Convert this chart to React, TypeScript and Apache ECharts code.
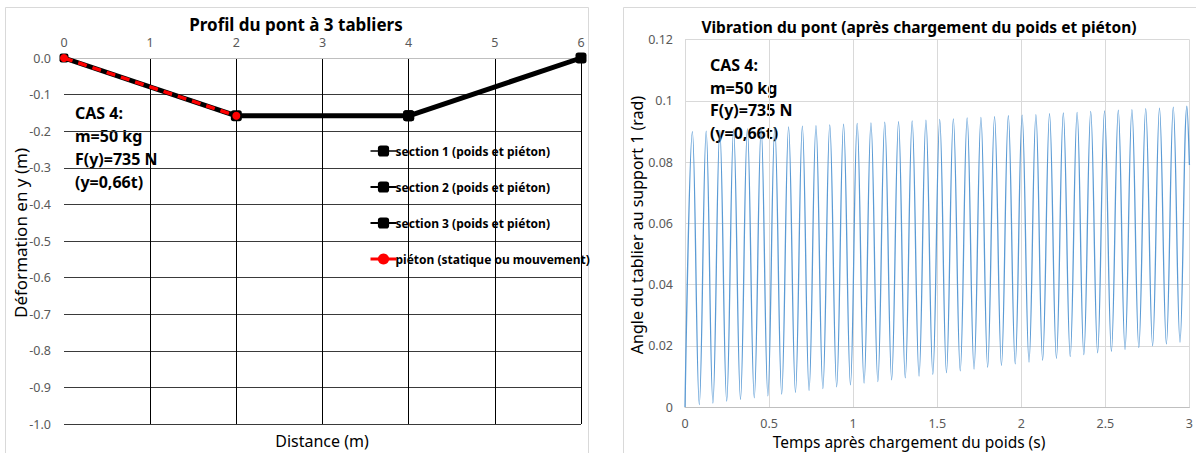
import React, { useEffect, useRef } from "react";
import * as echarts from "echarts";

// ---------- Left chart data: bridge profile ----------
const supportX = [0, 2, 4, 6];
const deflectionY = [0, -0.158, -0.158, 0];
const sectionNames = [
  "section 1 (poids et piéton)",
  "section 2 (poids et piéton)",
  "section 3 (poids et piéton)",
];
const pietonName = "piéton (statique ou mouvement)";
const leftXTicks = [0, 1, 2, 3, 4, 5, 6];

// ---------- Right chart data: vibration (extrema) ----------
const startPoint = [0, 0];
const endPoint = [3, 0.079];
const peakTimes = [
  0.044, 0.126, 0.207, 0.289, 0.371, 0.453, 0.534, 0.616, 0.698, 0.779, 0.861,
  0.943, 1.024, 1.106, 1.188, 1.27, 1.351, 1.433, 1.515, 1.596, 1.678, 1.76,
  1.841, 1.923, 2.005, 2.087, 2.168, 2.25, 2.332, 2.413, 2.495, 2.577, 2.658,
  2.74, 2.822, 2.904, 2.985,
];
const peakValues = [
  0.0899, 0.0901, 0.0903, 0.0906, 0.0908, 0.091, 0.0912, 0.0915, 0.0917,
  0.0919, 0.0921, 0.0924, 0.0926, 0.0928, 0.093, 0.0932, 0.0934, 0.0937,
  0.0939, 0.0941, 0.0944, 0.0946, 0.0948, 0.0951, 0.0953, 0.0955, 0.0958,
  0.096, 0.0962, 0.0965, 0.0967, 0.0969, 0.0971, 0.0974, 0.0976, 0.0979,
  0.0982,
];
const troughTimes = [
  0.085, 0.166, 0.248, 0.33, 0.412, 0.493, 0.575, 0.657, 0.738, 0.82, 0.902,
  0.984, 1.065, 1.147, 1.229, 1.31, 1.392, 1.474, 1.555, 1.637, 1.719, 1.8,
  1.882, 1.964, 2.046, 2.127, 2.209, 2.291, 2.372, 2.454, 2.536, 2.617, 2.699,
  2.781, 2.863, 2.944,
];
const troughValues = [
  0.0008, 0.0013, 0.0019, 0.0025, 0.003, 0.0036, 0.0042, 0.0048, 0.0054,
  0.006, 0.0066, 0.0072, 0.0078, 0.0083, 0.0089, 0.0095, 0.0101, 0.0107,
  0.0112, 0.0118, 0.0124, 0.013, 0.0136, 0.0141, 0.0147, 0.0153, 0.0159,
  0.0165, 0.0171, 0.0177, 0.0182, 0.0188, 0.0194, 0.02, 0.0206, 0.0212,
];

const FONT = '"Noto Sans", sans-serif';
const CAS_TEXT = "CAS 4:\nm=50 kg\nF(y)=735 N\n(y=0,66t)";

export default function App() {
  const ref = useRef<HTMLDivElement>(null);

  useEffect(() => {
    if (!ref.current) return;
    const chart = echarts.init(ref.current, undefined, { renderer: "svg" });

    const pts = supportX.map((x, i) => [x, deflectionY[i]]);
    const sections = sectionNames.map((_, i) => [pts[i], pts[i + 1]]);
    const pieton = [pts[0], pts[1]];

    const vib: number[][] = [startPoint];
    peakTimes.forEach((t, i) => {
      vib.push([t, peakValues[i]]);
      if (i < troughTimes.length) vib.push([troughTimes[i], troughValues[i]]);
    });
    vib.push(endPoint);

    const tickLabel = { color: "#595959", fontSize: 12.5, fontFamily: FONT };

    chart.setOption({
      animation: false,
      textStyle: { fontFamily: FONT },
      title: [
        {
          text: "Profil du pont à 3 tabliers",
          left: 291,
          top: 11,
          textAlign: "center",
          textStyle: { fontSize: 17, fontWeight: "bold", color: "#000", fontFamily: FONT },
        },
        {
          text: "Vibration du pont (après chargement du poids et piéton)",
          left: 914,
          top: 14,
          textAlign: "center",
          textStyle: { fontSize: 15.5, fontWeight: "bold", color: "#000", fontFamily: FONT },
        },
      ],
      grid: [
        { left: 64, top: 58, width: 517, height: 366 },
        { left: 685, top: 39.5, width: 507.5, height: 367.5 },
      ],
      xAxis: [
        {
          gridIndex: 0,
          type: "value",
          position: "top",
          min: leftXTicks[0],
          max: leftXTicks[leftXTicks.length - 1],
          interval: 1,
          axisLine: { show: true, onZero: false, lineStyle: { color: "#BFBFBF", width: 1 } },
          axisTick: { show: false },
          axisLabel: { ...tickLabel, margin: 9 },
          splitLine: { show: true, showMinLine: false, lineStyle: { color: "#000", width: 1 } },
        },
        {
          gridIndex: 1,
          type: "value",
          min: 0,
          max: 3,
          interval: 0.5,
          axisLine: { show: true, lineStyle: { color: "#BFBFBF", width: 1 } },
          axisTick: { show: false },
          axisLabel: { ...tickLabel, margin: 10 },
          splitLine: { show: true, lineStyle: { color: "#D9D9D9", width: 1 } },
        },
      ],
      yAxis: [
        {
          gridIndex: 0,
          type: "value",
          min: -1,
          max: 0,
          interval: 0.1,
          axisLine: { show: false },
          axisTick: { show: false },
          axisLabel: {
            ...tickLabel,
            margin: 13,
            formatter: (v: number) => v.toFixed(1),
          },
          splitLine: { show: true, showMaxLine: false, lineStyle: { color: "#3A3A3A", width: 1 } },
        },
        {
          gridIndex: 1,
          type: "value",
          min: 0,
          max: 0.12,
          interval: 0.02,
          axisLine: { show: false },
          axisTick: { show: false },
          axisLabel: { ...tickLabel, margin: 12 },
          splitLine: { show: true, lineStyle: { color: "#D9D9D9", width: 1 } },
        },
      ],
      legend: {
        orient: "vertical",
        left: 364,
        top: 140,
        itemGap: 24,
        itemWidth: 26,
        itemHeight: 14,
        selectedMode: false,
        textStyle: { fontSize: 12, fontWeight: "bold", color: "#000", fontFamily: FONT, padding: [0, 0, 0, -6] },
        data: [
          { name: sectionNames[0], itemStyle: { color: "#000" }, lineStyle: { width: 1.5, color: "#000" } },
          { name: sectionNames[1] },
          { name: sectionNames[2] },
          { name: pietonName, lineStyle: { type: "solid", width: 3, color: "#FF0000" } },
        ],
      },
      graphic: [
        {
          type: "rect",
          shape: { x: 5.5, y: 7.5, width: 583, height: 460 },
          style: { fill: "none", stroke: "#D9D9D9", lineWidth: 1 },
          silent: true,
        },
        {
          type: "rect",
          shape: { x: 623.5, y: 7.5, width: 590, height: 460 },
          style: { fill: "none", stroke: "#D9D9D9", lineWidth: 1 },
          silent: true,
        },
        {
          type: "text",
          x: 75,
          y: 101,
          style: { text: CAS_TEXT, font: `bold 16px ${FONT}`, lineHeight: 23, fill: "#000" },
        },
        {
          type: "text",
          x: 710,
          y: 54,
          style: { text: CAS_TEXT, font: `bold 16px ${FONT}`, lineHeight: 22.5, fill: "#000" },
        },
        {
          type: "text",
          x: 322,
          y: 441,
          style: { text: "Distance (m)", font: `16px ${FONT}`, fill: "#000", align: "center", verticalAlign: "middle" },
        },
        {
          type: "text",
          x: 20,
          y: 233,
          rotation: Math.PI / 2,
          style: { text: "Déformation en y (m)", font: `17px ${FONT}`, fill: "#000", align: "center", verticalAlign: "middle" },
        },
        {
          type: "text",
          x: 909,
          y: 442,
          style: { text: "Temps après chargement du poids (s)", font: `15.5px ${FONT}`, fill: "#000", align: "center", verticalAlign: "middle" },
        },
        {
          type: "text",
          x: 637,
          y: 225,
          rotation: Math.PI / 2,
          style: { text: "Angle du tablier au support 1 (rad)", font: `16px ${FONT}`, fill: "#000", align: "center", verticalAlign: "middle" },
        },
      ],
      series: [
        ...sections.map((d, i) => ({
          name: sectionNames[i],
          type: "line",
          xAxisIndex: 0,
          yAxisIndex: 0,
          data: d,
          symbol: "roundRect",
          symbolSize: i === 0 ? 9 : 11,
          showSymbol: true,
          lineStyle: { color: "#000", width: 5 },
          itemStyle: { color: "#000" },
          z: 3,
        })),
        {
          name: pietonName,
          type: "line",
          xAxisIndex: 0,
          yAxisIndex: 0,
          data: pieton,
          symbol: "circle",
          symbolSize: 8,
          lineStyle: { color: "#FF0000", width: 3.5, type: [9, 6] },
          itemStyle: { color: "#FF0000" },
          z: 4,
        },
        {
          name: "vibration",
          type: "line",
          xAxisIndex: 1,
          yAxisIndex: 1,
          data: vib,
          smooth: 0.4,
          showSymbol: false,
          symbol: "none",
          lineStyle: { color: "#5B9BD5", width: 1.3 },
          z: 3,
        },
      ],
    });

    return () => chart.dispose();
  }, []);

  return (
    <div
      ref={ref}
      style={{ position: "absolute", left: 0, top: 0, width: 1196, height: 453, background: "#fff" }}
    />
  );
}
